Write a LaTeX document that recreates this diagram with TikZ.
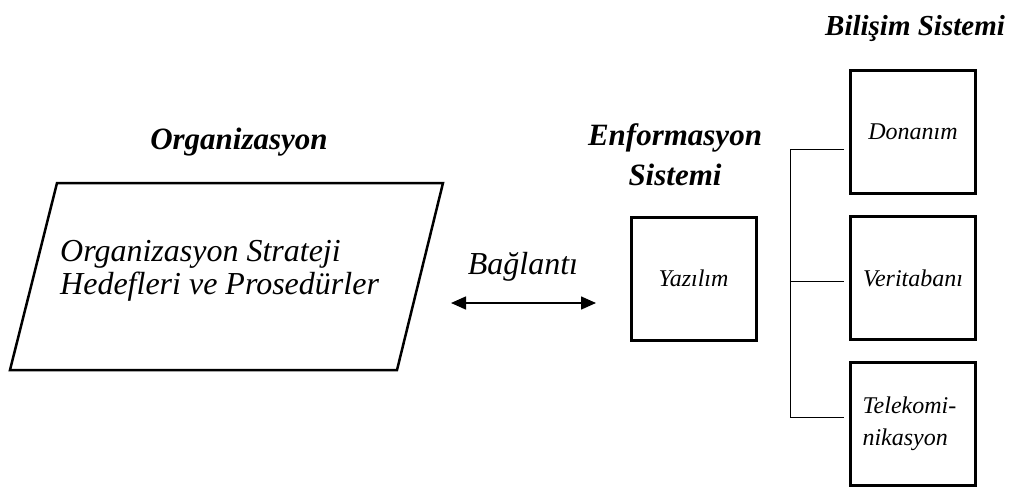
\documentclass[tikz,border=0pt]{standalone}
\usepackage{fontspec}
\setmainfont{Liberation Serif}
\usepackage{tikz}
\usetikzlibrary{arrows.meta}

\begin{document}
\begin{tikzpicture}[x=1pt,y=-1pt,
		baslik/.style={font=\fontsize{31}{40}\selectfont\bfseries\itshape, align=center},
		buyuk/.style={font=\fontsize{32}{33}\selectfont\itshape},
		kutu/.style={draw, line width=3pt, minimum width=125pt, minimum height=123pt, inner sep=0pt, font=\fontsize{24}{32}\selectfont\itshape},
		hat/.style={line width=1pt},
		okhat/.style={line width=1.5pt, {Triangle[length=15pt,width=13pt]}-{Triangle[length=15pt,width=13pt]}}]
			\useasboundingbox (0,0) rectangle (1016,491);
			\node[baslik] (orgbaslik) at (239,142) {Organizasyon};
			\node[baslik] (enfbaslik) at (675,155) {Enformasyon\\Sistemi};
			\node[baslik, font=\fontsize{29}{40}\selectfont\bfseries\itshape] (bilbaslik) at (915,28) {Bilişim Sistemi};
			\draw[line width=2.5pt] (57,183) -- (443,183) -- (397,370) -- (10,370) -- cycle;
			\node[buyuk, anchor=west, align=left, inner sep=0pt] (strateji) at (60,271) {Organizasyon Strateji\\Hedefleri ve Prosedürler};
			\node[buyuk] (baglanti) at (523,267) {Bağlantı};
			\coordinate (okSol) at (451,303);
			\coordinate (okSag) at (596,303);
			\draw[okhat] (okSol) -- (okSag);
			\node[kutu] (yazilim) at (693.5,278.5) {Yazılım};
			\node[kutu] (donanim) at (913,132) {Donanım};
			\node[kutu] (veritabani) at (913,278) {Veritabanı};
			\node[kutu, align=left, text width=101pt] (telekom) at (913,424) {Telekomi-\\nikasyon};
			\coordinate (kolUst) at (790,149);
			\coordinate (kolOrta) at (790,281);
			\coordinate (kolAlt) at (790,417);
			\draw[hat] (donanim.west |- kolUst) ++(-5,0) -- (kolUst) -- (kolAlt) -- ++(54,0);
			\draw[hat] (kolOrta) -- ++(54,0);
		\end{tikzpicture}
\end{document}
